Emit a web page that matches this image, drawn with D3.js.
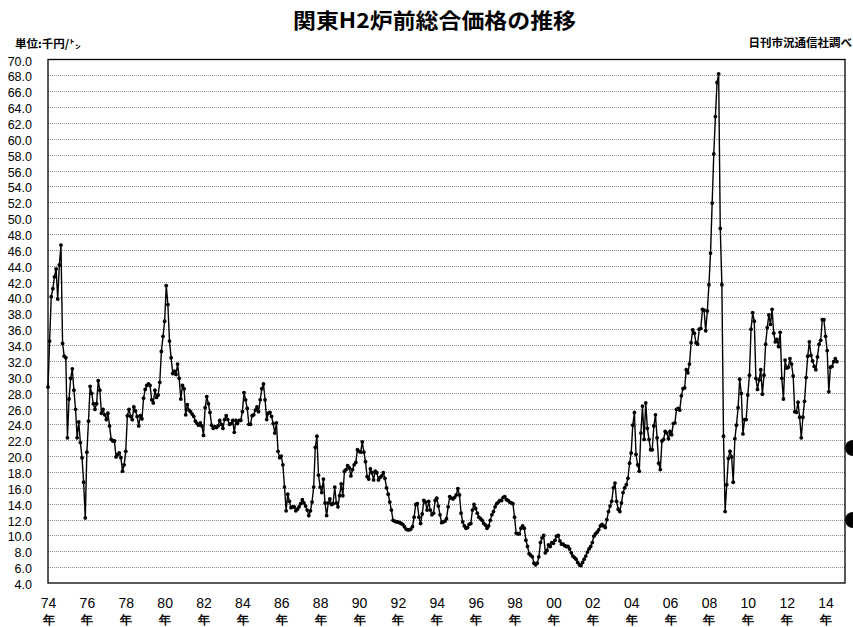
<!DOCTYPE html>
<html>
<head>
<meta charset="utf-8">
<script src="https://d3js.org/d3.v7.min.js"></script>
<style>
body { margin: 0; background: #fff; }

.line {
  fill: none;
  stroke: #000;
  stroke-width: 1.4px;
}

.grid line {
  stroke: #8c8c8c;
  stroke-dasharray: 1,1;
  shape-rendering: crispEdges;
}

.grid path {
  stroke-width: 0;
}

.yaxis text {
  font-family: "Liberation Sans", Arial, sans-serif;
  font-size: 12.5px;
  fill: #000;
}

.xaxis text {
  font-family: "Liberation Sans Narrow", "Arial Narrow", "Liberation Sans", sans-serif;
  font-stretch: condensed;
  font-size: 14px;
  fill: #000;
}

.jp {
  font-family: "Noto Sans CJK JP", sans-serif;
  font-weight: bold;
  fill: #000;
}
</style>
</head>
<body>
<svg></svg>

<script>
// monthly price, thousand yen per ton, Jan 1974 onwards
var startYear = 1974;
var prices = [
  28.7, 34.5, 40.1, 41.1, 42.6, 43.6, 39.8, 44.1, 46.6, 34.2, 32.6, 32.4,
  22.3, 27.2, 29.8, 31.0, 28.3, 25.9, 22.3, 24.3, 21.7, 19.8, 16.7, 12.2,
  20.5, 24.4, 28.8, 27.9, 26.6, 25.9, 26.6, 29.5, 28.3, 25.4, 25.9, 25.2,
  24.6, 25.4, 23.8, 22.1, 21.9, 21.9, 19.9, 20.2, 20.4, 19.8, 18.1, 18.9,
  20.6, 25.1, 25.9, 25.0, 24.6, 26.2, 25.7, 25.0, 23.8, 25.1, 24.7, 27.3,
  28.4, 28.9, 29.1, 28.9, 27.1, 26.7, 28.3, 27.4, 27.7, 29.3, 33.2, 35.1,
  37.0, 41.5, 39.1, 34.5, 32.4, 30.4, 30.7, 30.3, 31.6, 29.8, 27.2, 28.9,
  28.5, 25.2, 26.5, 25.8, 25.6, 25.3, 25.0, 24.4, 24.1, 23.9, 24.2, 23.8,
  22.6, 26.1, 27.5, 26.6, 25.5, 23.9, 23.5, 23.7, 23.6, 23.8, 24.5, 24.0,
  23.5, 24.6, 25.1, 24.6, 24.0, 24.1, 24.5, 23.0, 24.5, 24.1, 24.5, 24.5,
  25.6, 28.0, 27.1, 26.0, 24.0, 24.0, 25.1, 25.2, 25.8, 26.2, 25.6, 27.1,
  28.5, 29.1, 27.1, 24.6, 25.4, 25.5, 25.0, 24.1, 22.9, 24.2, 20.6, 19.8,
  20.0, 18.9, 16.1, 13.1, 15.2, 14.3, 13.5, 13.6, 13.6, 13.1, 13.3, 13.6,
  14.0, 14.5, 14.1, 13.7, 13.2, 12.5, 13.1, 14.2, 16.1, 21.1, 22.5, 17.6,
  16.1, 15.4, 17.1, 14.1, 12.5, 14.1, 14.6, 13.9, 14.0, 16.1, 14.1, 13.6,
  15.0, 16.5, 15.0, 18.1, 18.3, 18.8, 18.5, 17.5, 18.3, 18.9, 19.2, 20.8,
  20.6, 20.5, 21.8, 20.5, 19.3, 17.4, 17.1, 18.4, 17.9, 17.0, 18.1, 17.9,
  17.0, 17.3, 17.5, 17.9, 17.2, 16.0, 15.2, 14.2, 13.2, 11.9, 11.8, 11.7,
  11.7, 11.6, 11.5, 11.4, 11.1, 10.8, 10.7, 10.7, 10.8, 11.1, 12.3, 13.9,
  14.0, 12.3, 11.5, 12.7, 14.4, 14.2, 13.2, 14.3, 13.2, 12.6, 12.8, 14.4,
  14.7, 13.7, 12.6, 11.6, 11.7, 11.8, 12.1, 13.6, 14.9, 14.7, 14.6, 14.8,
  15.1, 15.9, 15.1, 12.8, 11.7, 11.2, 10.9, 11.0, 11.4, 11.5, 13.2, 13.9,
  13.4, 12.8, 12.3, 12.1, 11.9, 11.5, 11.3, 10.9, 11.2, 11.9, 12.6, 13.0,
  13.6, 14.0, 14.2, 14.4, 14.4, 14.8, 14.9, 14.5, 14.4, 14.2, 14.1, 14.0,
  12.3, 10.3, 10.2, 10.2, 10.9, 11.2, 10.9,  9.4,  8.6,  7.7,  7.5,  7.3,
   6.5,  6.3,  6.5,  7.3,  9.1,  9.7, 10.0,  7.8,  8.1,  8.8,  8.6,  9.1,
   9.0,  9.4,  9.9, 10.0,  9.3,  8.9,  8.9,  8.7,  8.6,  8.6,  8.3,  7.8,
   7.4,  7.2,  7.0,  6.6,  6.3,  6.2,  6.6,  7.0,  7.4,  7.9,  8.3,  8.6,
   9.1,  9.9, 10.2, 10.4, 10.7, 11.2, 11.4, 11.2, 11.0, 12.0, 13.0, 13.7,
  14.3, 16.0, 16.6, 14.3, 13.3, 13.0, 14.1, 15.4, 16.0, 16.4, 17.2, 19.1,
  20.4, 23.9, 25.5, 20.2, 18.9, 18.1, 22.9, 26.3, 22.1, 26.7, 23.5, 22.1,
  20.8, 20.8, 23.8, 25.2, 22.3, 19.1, 18.3, 21.9, 22.1, 23.1, 22.9, 22.2,
  23.1, 22.7, 24.1, 24.2, 25.9, 26.0, 25.8, 27.6, 28.5, 28.6, 30.9, 30.5,
  31.6, 34.3, 35.9, 35.5, 34.3, 34.1, 36.0, 36.1, 38.5, 38.4, 35.8, 38.3,
  41.6, 45.6, 51.9, 58.1, 62.8, 67.1, 68.2, 48.7, 41.6, 22.5, 13.0, 16.4,
  19.7, 20.6, 19.9, 16.7, 22.2, 23.9, 26.1, 29.7, 27.9, 22.8, 24.6, 24.6,
  27.7, 30.2, 36.0, 38.1, 37.0, 29.8, 28.4, 29.6, 30.9, 27.8, 30.2, 34.1,
  36.2, 37.8, 36.6, 38.5, 35.5, 34.4, 34.7, 33.8, 35.6, 29.8, 27.2, 32.1,
  31.1, 31.2, 32.3, 31.6, 30.1, 25.6, 25.5, 26.8, 24.9, 22.3, 24.9, 26.9,
  29.9, 32.6, 34.4, 32.7, 32.0, 31.3, 30.9, 32.5, 34.1, 34.6, 37.2, 37.2,
  35.1, 33.3, 28.1, 31.2, 31.3, 31.9, 32.3, 31.9
];

// x labels every two years
var yearLabels = ["74","76","78","80","82","84","86","88","90","92","94","96","98",
                  "00","02","04","06","08","10","12","14"];
var yTicks = [4,6,8,10,12,14,16,18,20,22,24,26,28,30,32,34,36,38,40,
              42,44,46,48,50,52,54,56,58,60,62,64,66,68,70];

var title = "関東H2炉前総合価格の推移";
var unitLabel = "単位:千円/㌧";
var sourceLabel = "日刊市況通信社調べ";

var W = 853, H = 627;
var plotLeft = 48, plotRight = 845, plotTop = 59.5, plotBottom = 583;
var width = plotRight - plotLeft, height = plotBottom - plotTop;

var svg = d3.select("svg").attr("width", W).attr("height", H);

var x = d3.scaleLinear().domain([0, 492]).range([0, width]);
var y = d3.scaleLinear().domain([4, 70]).range([height, 0]);

var plot = svg.append("g").attr("transform", "translate(" + plotLeft + "," + plotTop + ")");

// Y Gridlines
plot.append("g")
    .attr("class", "grid")
    .call(d3.axisLeft(y).tickValues(yTicks.slice(1, -1)).tickSize(-width).tickFormat(''));

// Y labels
var yAxis = plot.append("g")
    .attr("class", "yaxis")
    .attr("transform", "translate(-13,1.5)")
    .call(d3.axisLeft(y).tickValues(yTicks).tickSize(0).tickFormat(d3.format(".1f")));
yAxis.select(".domain").remove();

// X labels (year + 年)
var tickMonths = yearLabels.map(function(d, i) { return i * 24; });
var xAxis = plot.append("g")
    .attr("class", "xaxis")
    .attr("transform", "translate(0," + (height + 12) + ")")
    .call(d3.axisBottom(x).tickValues(tickMonths).tickSize(0)
        .tickFormat(function(d, i) { return yearLabels[i]; }));
xAxis.select(".domain").remove();
xAxis.selectAll(".tick").append("text")
    .attr("class", "jp")
    .attr("y", 29)
    .attr("text-anchor", "middle")
    .style("font-size", "12px")
    .text("年");

// Price line
var line = d3.line()
    .x(function(d, i) { return x(i); })
    .y(function(d) { return y(d); });

plot.append("path")
    .datum(prices)
    .attr("class", "line")
    .attr("d", line);

plot.append("g")
    .selectAll("circle")
    .data(prices)
    .enter().append("circle")
    .attr("cx", function(d, i) { return x(i); })
    .attr("cy", function(d) { return y(d); })
    .attr("r", 1.9)
    .attr("fill", "#000");

// Frame
plot.append("rect")
    .attr("width", width)
    .attr("height", height)
    .attr("fill", "none")
    .attr("stroke", "#000")
    .attr("stroke-width", 1.3);

// Title
svg.append("text")
    .attr("class", "jp")
    .attr("x", 434.5)
    .attr("y", 28)
    .attr("text-anchor", "middle")
    .attr("textLength", 283)
    .attr("lengthAdjust", "spacingAndGlyphs")
    .style("font-size", "21px")
    .text(title);

svg.append("text")
    .attr("class", "jp")
    .attr("x", 15)
    .attr("y", 48)
    .style("font-size", "11.5px")
    .text(unitLabel);

svg.append("text")
    .attr("class", "jp")
    .attr("x", 852)
    .attr("y", 46.5)
    .attr("text-anchor", "end")
    .style("font-size", "11.5px")
    .text(sourceLabel);

// two black dots cut by the right edge
svg.selectAll(".edge")
    .data([448, 520])
    .enter().append("circle")
    .attr("class", "edge")
    .attr("cx", 853)
    .attr("cy", function(d) { return d; })
    .attr("r", 8)
    .attr("fill", "#000");
</script>
</body>
</html>
